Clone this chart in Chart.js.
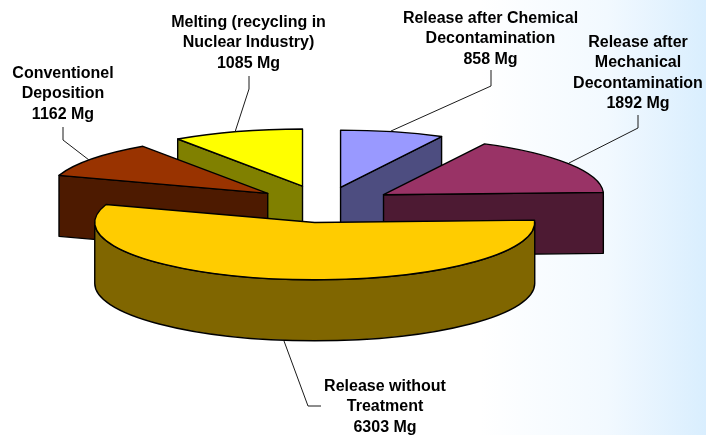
<!DOCTYPE html>
<html>
<head>
<meta charset="utf-8">
<style>
  html, body { margin: 0; padding: 0; background: #fff; }
  #wrap {
    width: 706px; height: 435px; position: relative;
    background: linear-gradient(to right, #ffffff 0%, #ffffff 68%, #f2f9ff 86%, #d9eefe 100%);
  }
</style>
<script src="https://cdn.jsdelivr.net/npm/chart.js@4"></script>
</head>
<body>
<div id="wrap"><canvas id="pie" width="706" height="435"></canvas></div>
<script>
// slices, clockwise from twelve o'clock
const categories = ['Release after Chemical Decontamination', 'Release after Mechanical Decontamination', 'Release without Treatment', 'Conventionel Deposition', 'Melting (recycling in Nuclear Industry)'];
const masses = [858, 1892, 6303, 1162, 1085];
const topColors = ['#9999ff', '#993366', '#ffcc00', '#993300', '#ffff00'];
const wallColors = ['#4d4d80', '#4d1a33', '#806600', '#4d1a00', '#808000'];
const explode = [68, 70, 70, 71, 74];

// text blocks: lines, centre x, first baseline
const labelLines = [
    ['Release after Chemical', 'Decontamination', '858 Mg'],
    ['Release after', 'Mechanical', 'Decontamination', '1892 Mg'],
    ['Release without', 'Treatment', '6303 Mg'],
    ['Conventionel', 'Deposition', '1162 Mg'],
    ['Melting (recycling in', 'Nuclear Industry)', '1085 Mg']
];
const labelX = [490.5, 638, 385, 63, 248.5];
const labelY = [23, 47, 391, 78, 27];
const leaderLines = [
    [[491, 70], [491, 86], [391, 131]],
    [[638, 115], [638, 128], [569, 163]],
    [[321, 406], [308, 406], [284, 341]],
    [[63, 127], [63, 140], [89, 160]],
    [[249, 76], [249, 89], [235, 132]]
];

const TILT = 0.26;   // vertical squash of the disc
const DEPTH = 61;    // wall height

// draws the arcs as an extruded, tilted disc
const tiltedPie = {
    id: 'tiltedPie',
    beforeDatasetsDraw(chart) {
        const ctx = chart.ctx;
        const arcs = chart.getDatasetMeta(0).data;
        const cy = arcs[0].y;

        function slice(arc) {
            const mid = (arc.startAngle + arc.endAngle) / 2;
            const off = arc.options.offset;
            return {
                x: arc.x + off * Math.cos(mid),
                y: cy + off * Math.sin(mid) * TILT,
                r: arc.outerRadius,
                start: arc.startAngle,
                end: arc.endAngle
            };
        }

        function edge(s, a) {
            return [s.x + s.r * Math.cos(a), s.y + s.r * TILT * Math.sin(a)];
        }

        function paint(fill) {
            ctx.fillStyle = fill;
            ctx.fill();
            ctx.strokeStyle = '#000';
            ctx.lineWidth = 1.4;
            ctx.lineJoin = 'round';
            ctx.stroke();
        }

        function radialWall(s, a, fill) {
            const p = edge(s, a);
            ctx.beginPath();
            ctx.moveTo(s.x, s.y);
            ctx.lineTo(p[0], p[1]);
            ctx.lineTo(p[0], p[1] + DEPTH);
            ctx.lineTo(s.x, s.y + DEPTH);
            ctx.closePath();
            paint(fill);
        }

        // only the part of the rim facing the viewer has a wall
        function rimWall(s, fill) {
            const from = Math.max(s.start, 0);
            const to = Math.min(s.end, Math.PI);
            if (to <= from) return;
            const a = edge(s, from);
            const b = edge(s, to);
            ctx.beginPath();
            ctx.ellipse(s.x, s.y, s.r, s.r * TILT, 0, from, to);
            ctx.lineTo(b[0], b[1] + DEPTH);
            ctx.ellipse(s.x, s.y + DEPTH, s.r, s.r * TILT, 0, to, from, true);
            ctx.lineTo(a[0], a[1]);
            ctx.closePath();
            paint(fill);
        }

        // back slices first
        const order = arcs.map((arc, i) => i).sort((a, b) => slice(arcs[a]).y - slice(arcs[b]).y);
        order.forEach(i => {
            const s = slice(arcs[i]);
            if (Math.cos(s.start) < -1e-6) radialWall(s, s.start, wallColors[i]);
            if (Math.cos(s.end) > 1e-6) radialWall(s, s.end, wallColors[i]);
            rimWall(s, wallColors[i]);
            ctx.beginPath();
            ctx.moveTo(s.x, s.y);
            ctx.ellipse(s.x, s.y, s.r, s.r * TILT, 0, s.start, s.end);
            ctx.closePath();
            paint(topColors[i]);
        });
        return false;
    },
    // leader lines and text sit on top of the disc
    afterDraw(chart) {
        const ctx = chart.ctx;
        ctx.save();
        ctx.strokeStyle = '#1a1a1a';
        ctx.lineWidth = 1;
        leaderLines.forEach(pts => {
            ctx.beginPath();
            pts.forEach((p, i) => i ? ctx.lineTo(p[0], p[1]) : ctx.moveTo(p[0], p[1]));
            ctx.stroke();
        });
        ctx.fillStyle = '#000';
        ctx.font = 'bold 16px "Liberation Sans", Arial, sans-serif';
        ctx.textAlign = 'center';
        ctx.textBaseline = 'alphabetic';
        labelLines.forEach((lines, i) => {
            lines.forEach((line, j) => ctx.fillText(line, labelX[i], labelY[i] + j * 20.4));
        });
        ctx.restore();
    }
};

new Chart(document.getElementById('pie'), {
    type: 'pie',
    data: {
        labels: categories,
        datasets: [{
            data: masses,
            backgroundColor: topColors,
            borderWidth: 0,
            offset: explode
        }]
    },
    options: {
        responsive: false,
        animation: false,
        radius: 220,
        layout: { padding: { right: 57, bottom: 26 } },
        plugins: { legend: { display: false }, tooltip: { enabled: false } }
    },
    plugins: [tiltedPie]
});
</script>
</body>
</html>
